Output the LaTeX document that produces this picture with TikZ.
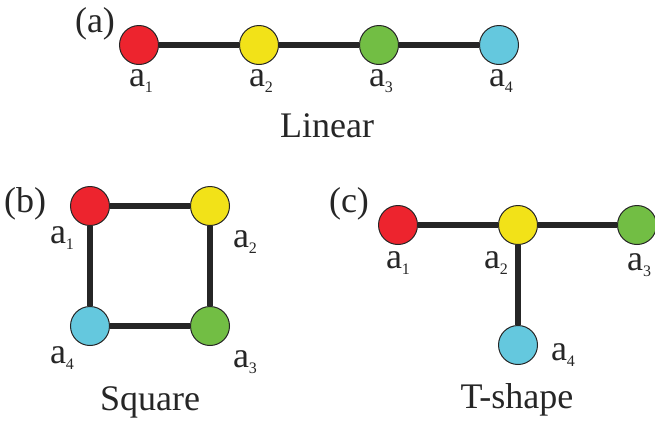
\documentclass[tikz,border=0pt]{standalone}
\usepackage{fontspec}
\setmainfont{Liberation Serif}
\definecolor{cred}{RGB}{237,36,46}
\definecolor{cyel}{RGB}{242,226,24}
\definecolor{cgrn}{RGB}{114,190,68}
\definecolor{cblu}{RGB}{100,200,222}
\newcommand{\albl}[1]{a\raisebox{-6pt}{\fontsize{16}{16}\selectfont #1}}
\begin{document}
\begin{tikzpicture}[x=1pt,y=-1pt,
  atom/.style={circle,draw=black!85,line width=1pt,minimum size=39pt,inner sep=0pt},
  bond/.style={line width=5.5pt,draw=black!85},
  lbl/.style={font=\fontsize{36}{36}\selectfont,inner sep=0pt,text=black!85},
  ttl/.style={font=\fontsize{36}{36}\selectfont,inner sep=0pt,text=black!85}]
\useasboundingbox (0,0) rectangle (655,421);
% (a) linear
\node[ttl] (ta) at (95,24) {(a)};
\node[atom,fill=cred] (a1) at (139,45) {};
\node[atom,fill=cyel] (a2) at (259,45) {};
\node[atom,fill=cgrn] (a3) at (379,45) {};
\node[atom,fill=cblu] (a4) at (499,45) {};
\draw[bond] (a1) -- (a2);
\draw[bond] (a2) -- (a3);
\draw[bond] (a3) -- (a4);
\node[lbl] (l1) at (141,81) {\albl{1}};
\node[lbl] (l2) at (261,81) {\albl{2}};
\node[lbl] (l3) at (381,81) {\albl{3}};
\node[lbl] (l4) at (501,81) {\albl{4}};
\node[ttl] (lin) at (327,126) {Linear};
% (b) square
\node[ttl] (tb) at (25,204) {(b)};
\node[atom,fill=cred] (b1) at (90,206) {};
\node[atom,fill=cyel] (b2) at (210,206) {};
\node[atom,fill=cgrn] (b3) at (210,326) {};
\node[atom,fill=cblu] (b4) at (90,326) {};
\draw[bond] (b1) -- (b2);
\draw[bond] (b2) -- (b3);
\draw[bond] (b3) -- (b4);
\draw[bond] (b4) -- (b1);
\node[lbl] (m1) at (62,238) {\albl{1}};
\node[lbl] (m2) at (245,242) {\albl{2}};
\node[lbl] (m4) at (62,358) {\albl{4}};
\node[lbl] (m3) at (245,362) {\albl{3}};
\node[ttl] (sq) at (150,402) {Square};
% (c) T-shape
\node[ttl] (tc) at (349,204) {(c)};
\node[atom,fill=cred] (c1) at (398,225) {};
\node[atom,fill=cyel] (c2) at (518,225) {};
\node[atom,fill=cgrn] (c3) at (637,225) {};
\node[atom,fill=cblu] (c4) at (518,345) {};
\draw[bond] (c1) -- (c2);
\draw[bond] (c2) -- (c3);
\draw[bond] (c2) -- (c4);
\node[lbl] (n1) at (398,263) {\albl{1}};
\node[lbl] (n2) at (496,263) {\albl{2}};
\node[lbl] (n3) at (639,265) {\albl{3}};
\node[lbl] (n4) at (563,355) {\albl{4}};
\node[ttl] (ts) at (517,400) {T-shape};
\end{tikzpicture}
\end{document}
